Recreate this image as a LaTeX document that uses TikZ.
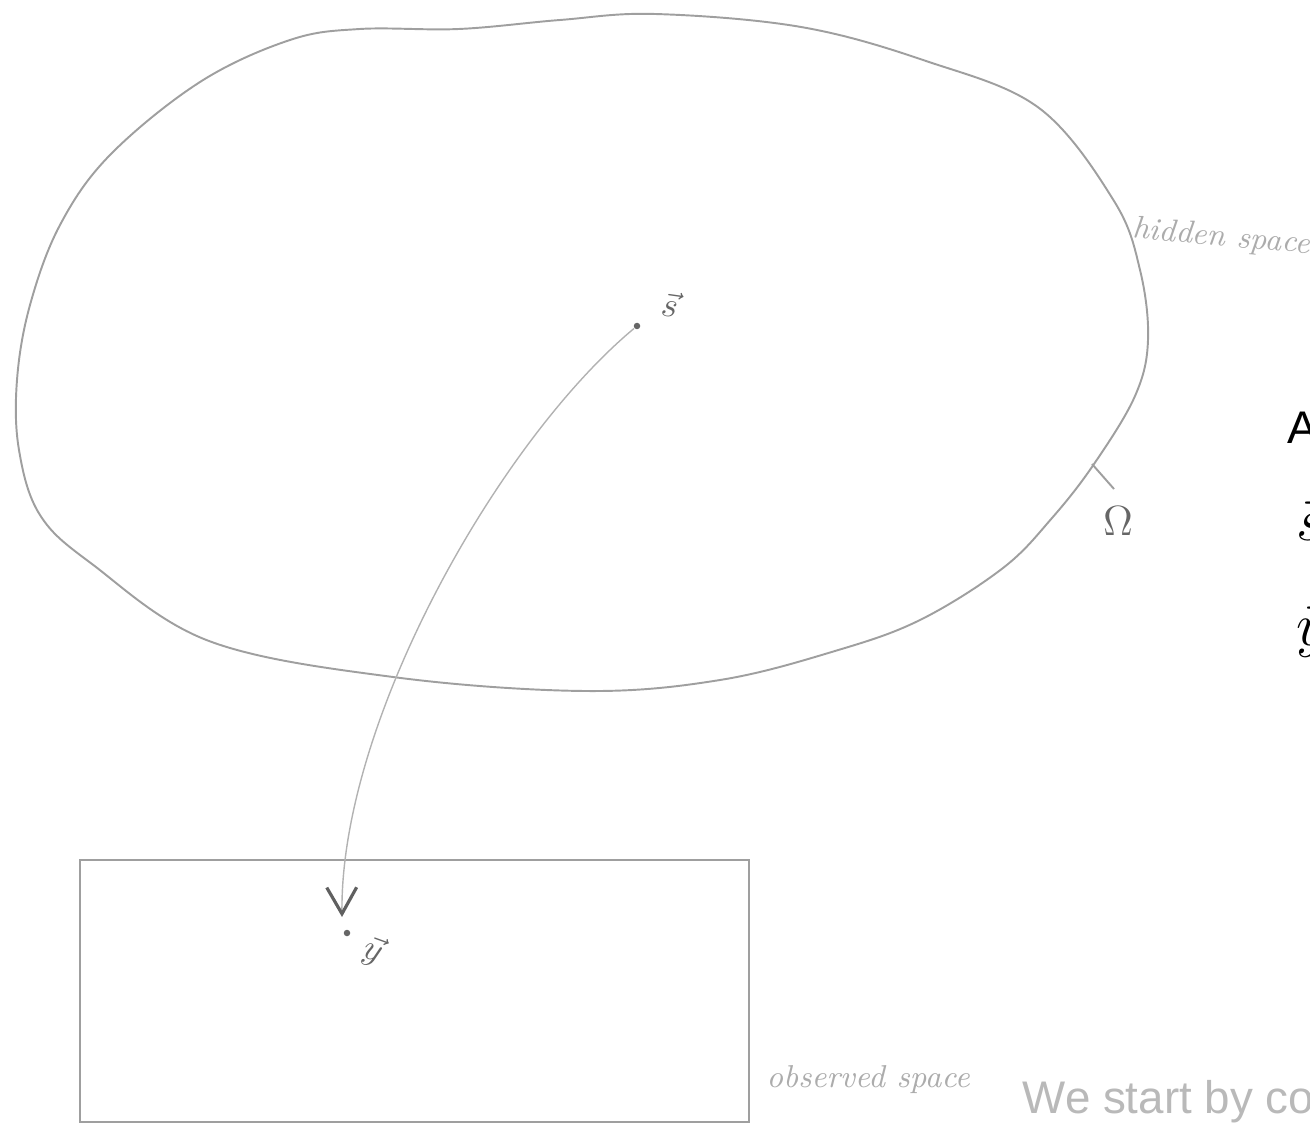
\documentclass[tikz,border=0pt]{standalone}
\usepackage{amsmath,amssymb}
\usepackage{fontspec}
\setsansfont{Liberation Sans}
\usetikzlibrary{arrows.meta}

\begin{document}
\begin{tikzpicture}[x=0.01cm, y=-0.01cm, every node/.style={font=\small},
	pencil/.style={draw=gray!75, line width=0.55pt},
	flow/.style={draw=gray!60, line width=0.4pt, -{Straight Barb[length=7.5pt, width=8.5pt, line width=0.9pt, color=gray!75!black]}},
	hand/.style={text=gray!65, font=\fontsize{9}{10}\selectfont\itshape, inner sep=0pt},
	vlabel/.style={text=gray!80!black, font=\fontsize{10}{12}\selectfont, inner sep=0pt},
	dot/.style={circle, fill=gray!80!black, inner sep=0pt, minimum size=0.65mm},
	slide/.style={font=\fontsize{13}{15}\selectfont\sffamily, inner sep=0pt}]
	\useasboundingbox (0,0) rectangle (1310,1128);
	\draw[pencil] plot[smooth cycle, tension=0.6] coordinates {(360,29) (459,29) (560,20) (655,14) (801,27) (926,61) (1039,108) (1114,201) (1140,270) (1148,340) (1135,396) (1094,464) (1052,518) (1003,568) (920,620) (835,651) (720,680) (585,691) (393,677) (209,641) (92,564) (40,515) (19,450) (17,380) (30,305) (60,225) (110,155) (200,82) (290,40)};
	\draw[pencil] (80,860) rectangle (749,1122);
	\node[dot] (s) at (637,326) {};
	\node[dot] (y) at (347,933) {};
	\coordinate (ytip) at (342,917);
	\coordinate (tick) at (1092,464);
	\node[vlabel, rotate=-8] (slab) at (670,304) {$\vec{s}$};
	\node[vlabel, rotate=-20] (ylab) at (373,951) {$\vec{y}$};
	\node[vlabel, font=\fontsize{13}{15}\selectfont] (omega) at (1118,521) {$\Omega$};
	\draw[flow] (s) .. controls (500,440) and (340,720) .. (ytip);
	\draw[pencil] (tick) -- ++(22,25);
	\node[hand, anchor=west, rotate=-5] (hidden) at (1132,230) {hidden space};
	\node[hand, anchor=west] (observed) at (766,1080) {observed space};
	\node[slide, anchor=base west] (title) at (1287,443) {A};
	\node[slide, anchor=base west, font=\fontsize{16}{18}\selectfont] (svec) at (1296,540) {$\vec{s}$};
	\node[slide, anchor=base west, font=\fontsize{16}{18}\selectfont] (yvec) at (1296,645) {$\vec{y}$};
	\node[slide, anchor=base west, text=gray!55] (note) at (1022,1113) {We start by co};
\end{tikzpicture}
\end{document}
